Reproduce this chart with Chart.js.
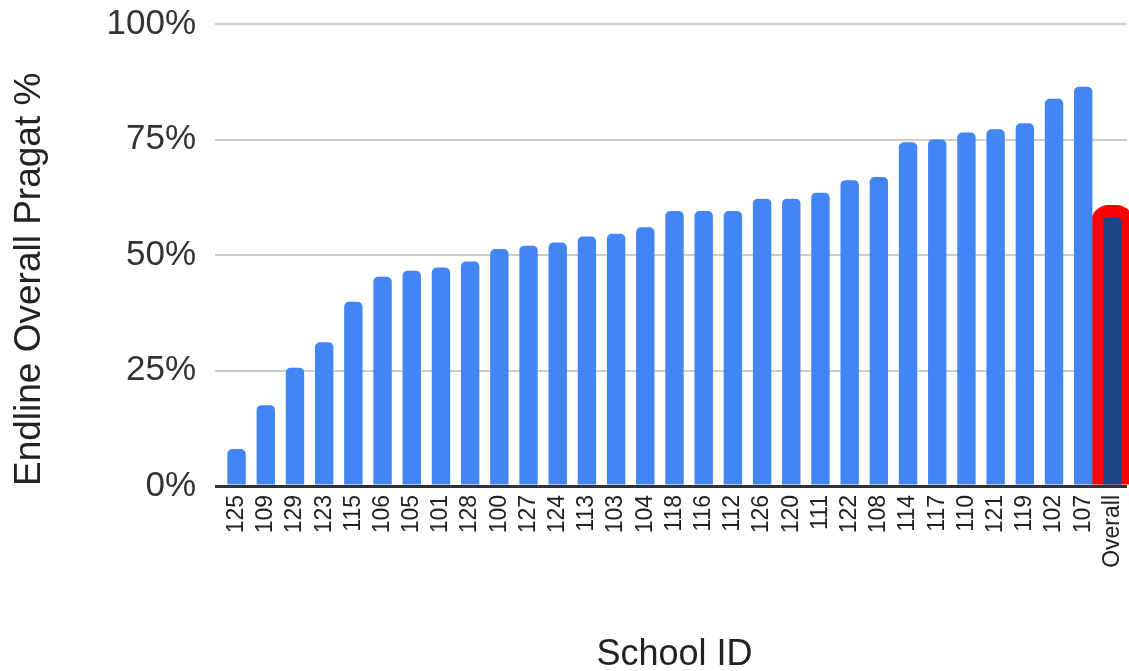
<!DOCTYPE html>
<html>
<head>
<meta charset="utf-8">
<script src="https://cdn.jsdelivr.net/npm/chart.js@4/dist/chart.umd.min.js"></script>
<style>
  html, body { margin: 0; padding: 0; background: #ffffff; }
  #wrap { width: 1129px; height: 671px; position: relative; }
</style>
</head>
<body>
<div id="wrap"><canvas id="chart" width="1129" height="671"></canvas></div>
<script>
// School IDs, sorted by endline score, with the overall figure last
const schoolIds = ['125','109','129','123','115','106','105','101','128','100','127','124','113','103','104','118','116','112','126','120','111','122','108','114','117','110','121','119','102','107','Overall'];

// Endline Overall Pragat % per school
const pragatPercent = [8.0, 17.5, 25.6, 31.1, 39.9, 45.3, 46.6, 47.3, 48.6, 51.3, 52.0, 52.7, 54.0, 54.6, 56.0, 59.5, 59.5, 59.5, 62.2, 62.2, 63.5, 66.2, 66.9, 74.4, 75.0, 76.5, 77.2, 78.5, 83.8, 86.4, 58.2];

// Y axis tick values
const yTicks = [0, 25, 50, 75, 100];

const FONT = "Arial, 'Liberation Sans', sans-serif";
const SCHOOL_BLUE = '#4285f4';
const OVERALL_BLUE = '#1c4587';
const HIGHLIGHT_RED = '#ff0000';
const RING = 12;

const barColors = schoolIds.map(id => id === 'Overall' ? OVERALL_BLUE : SCHOOL_BLUE);

// Red rounded outline behind the "Overall" bar
const highlightOverall = {
  id: 'highlightOverall',
  beforeDatasetsDraw(chart) {
    const idx = schoolIds.indexOf('Overall');
    const el = chart.getDatasetMeta(0).data[idx];
    if (!el) return;
    const { x, y, base, width } = el.getProps(['x', 'y', 'base', 'width'], true);
    const left = x - width / 2 - RING;
    const right = x + width / 2 + RING;
    const top = y - RING;
    const r = 17;
    const ctx = chart.ctx;
    ctx.save();
    ctx.beginPath();
    ctx.moveTo(left, base);
    ctx.lineTo(left, top + r);
    ctx.arcTo(left, top, left + r, top, r);
    ctx.lineTo(right - r, top);
    ctx.arcTo(right, top, right, top + r, r);
    ctx.lineTo(right, base);
    ctx.closePath();
    ctx.fillStyle = HIGHLIGHT_RED;
    ctx.fill();
    ctx.restore();
  }
};

new Chart(document.getElementById('chart'), {
  type: 'bar',
  data: {
    labels: schoolIds,
    datasets: [{
      label: 'Endline Overall Pragat %',
      data: pragatPercent,
      backgroundColor: barColors,
      borderWidth: 0,
      borderRadius: 5,
      borderSkipped: 'start',
      categoryPercentage: 1.0,
      barPercentage: 0.63,
      inflateAmount: 0
    }]
  },
  options: {
    responsive: false,
    animation: false,
    devicePixelRatio: 1,
    layout: { padding: { left: 0, right: 2, top: 24, bottom: 0 } },
    plugins: {
      legend: { display: false },
      tooltip: { enabled: false }
    },
    scales: {
      x: {
        grid: { display: false, drawTicks: false },
        border: { display: false },
        ticks: {
          autoSkip: false,
          minRotation: 90,
          maxRotation: 90,
          color: '#222222',
          padding: 9,
          font: { family: FONT, size: 23 }
        },
        title: {
          display: true,
          text: 'School ID',
          color: '#222222',
          padding: { top: 0, bottom: -6 },
          font: { family: FONT, size: 36 }
        },
        afterFit(scale) {
          scale.height = 185;
          scale.paddingLeft = 0;
          scale.paddingRight = 0;
        }
      },
      y: {
        min: 0,
        max: 100,
        afterBuildTicks(scale) { scale.ticks = yTicks.map(v => ({ value: v })); },
        grid: {
          color: c => (c.tick && c.tick.value === 0) ? '#333333' : '#cccccc',
          lineWidth: c => (c.tick && c.tick.value === 0) ? 3 : 2,
          drawTicks: true,
          tickLength: 7
        },
        border: { display: false },
        ticks: {
          color: '#333333',
          padding: 19,
          font: { family: FONT, size: 35 },
          callback: v => v + '%'
        },
        title: {
          display: true,
          text: 'Endline Overall Pragat %',
          align: 'start',
          color: '#222222',
          padding: { top: 8, bottom: 0 },
          font: { family: FONT, size: 37 }
        },
        afterFit(scale) {
          scale.width = 222;
          scale.paddingTop = 0;
          scale.paddingBottom = 0;
        }
      }
    }
  },
  plugins: [highlightOverall]
});
</script>
</body>
</html>
